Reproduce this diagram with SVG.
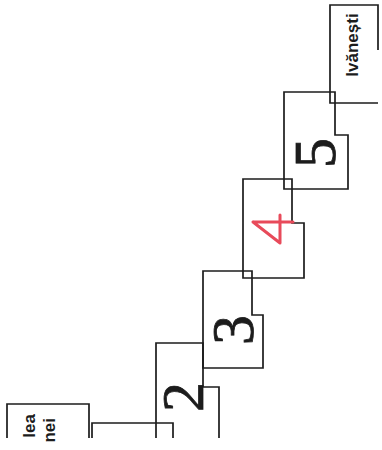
<svg xmlns="http://www.w3.org/2000/svg" width="382" height="450" viewBox="0 0 382 450">
<style>
.ln{fill:none;stroke:#1c1c1c;stroke-width:1.7;stroke-linejoin:miter}
.lbl{font-family:"Liberation Sans",Arial,sans-serif;font-size:17px;font-weight:bold;fill:#1c1c1c}
.num{font-family:"Liberation Serif","Times New Roman",serif;font-size:60px;fill:#1c1c1c;stroke:#1c1c1c;stroke-width:0.8;text-anchor:middle}
.red{fill:none;stroke:#e84a5a;stroke-width:3;stroke-linecap:round;stroke-linejoin:round}
</style>
<rect width="382" height="450" fill="#ffffff"/>
<g id="parcel-valea">
<path class="ln" d="M7,438 V404 H89 V438"/>
<text class="lbl" text-anchor="end" transform="translate(35,414) rotate(-90)">lea</text>
<text class="lbl" text-anchor="end" transform="translate(55,418) rotate(-90)">nei</text>
</g>
<g id="parcel-1">
<path class="ln" d="M92,438 V423 H173 V438"/>
</g>
<g id="parcel-2">
<path class="ln" d="M156,438 V343 H203 V387 H219 V438"/>
<text class="num" transform="translate(203,397) rotate(-90)">2</text>
</g>
<g id="parcel-3">
<path class="ln" d="M203,368 V271 H252 V315 H263 V368 Z"/>
<text class="num" transform="translate(253,330) rotate(-90)">3</text>
</g>
<g id="parcel-4">
<path class="ln" d="M243,278 V179 H292 V223 H304 V278 Z"/>
<path class="red" d="M253,222 H293 M280,215 V243 M253,222 L280,243"/>
</g>
<g id="parcel-5">
<path class="ln" d="M284,189 V92 H335 V135 H348 V189 Z"/>
<text class="num" transform="translate(335,153) rotate(-90)">5</text>
</g>
<g id="parcel-ivanesti">
<path class="ln" d="M378,50 V5 H330 V103 H378"/>
<text class="lbl" text-anchor="middle" transform="translate(358,45) rotate(-90)">Ivănești</text>
</g>
<g id="connectors"></g>
</svg>
